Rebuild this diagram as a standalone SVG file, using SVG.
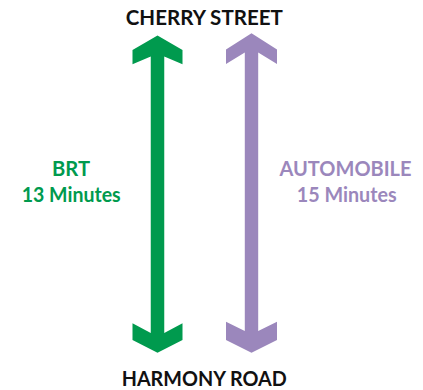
<svg xmlns="http://www.w3.org/2000/svg" width="423" height="390" viewBox="0 0 423 390">
  <style>
    .street { font-family: "Lato", "Liberation Sans", sans-serif; font-weight: bold; font-size: 21px; fill: #111111; text-anchor: middle; }
    .lbl { font-family: "Lato", "Liberation Sans", sans-serif; font-weight: bold; font-size: 20px; text-anchor: middle; }
    .brt { fill: #009a4e; }
    .auto { fill: #9b87bc; }
  </style>
  <rect width="423" height="390" fill="#ffffff"/>
  <g id="connectors">
    <polygon class="brt" points="157.5,35.5 182.5,50 182.5,64.3 164.25,56.5 164.25,333 182.5,323.3 182.5,340 157.5,352.7 132.5,340 132.5,323.3 150.75,333 150.75,56.5 132.5,64.3 132.5,50"/>
    <polygon class="auto" points="251.5,33.3 277,49.5 277,64 258.2,52.5 258.2,331 277,321.7 277,340 251.5,352.7 226,340 226,321.7 244.8,331 244.8,52.5 226,64 226,49.5"/>
  </g>
  <g id="cherry-street">
    <text class="street" x="204.3" y="25" textLength="157" lengthAdjust="spacingAndGlyphs">CHERRY STREET</text>
  </g>
  <g id="harmony-road">
    <text class="street" x="204.2" y="385.5" textLength="165" lengthAdjust="spacingAndGlyphs">HARMONY ROAD</text>
  </g>
  <g id="brt">
    <text class="lbl brt" x="71" y="176" textLength="38" lengthAdjust="spacingAndGlyphs">BRT</text>
    <text class="lbl brt" x="71.2" y="201.7" textLength="99" lengthAdjust="spacingAndGlyphs">13 Minutes</text>
  </g>
  <g id="automobile">
    <text class="lbl auto" x="345.5" y="176" textLength="132" lengthAdjust="spacingAndGlyphs">AUTOMOBILE</text>
    <text class="lbl auto" x="346.7" y="201.7" textLength="100" lengthAdjust="spacingAndGlyphs">15 Minutes</text>
  </g>
</svg>
